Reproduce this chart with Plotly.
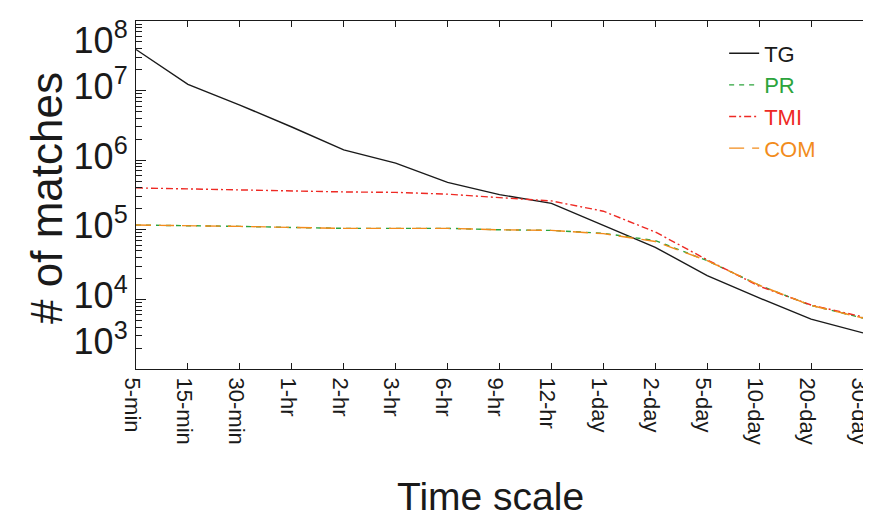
import plotly.graph_objects as go

categories = ["5-min", "15-min", "30-min", "1-hr", "2-hr", "3-hr", "6-hr", "9-hr",
              "12-hr", "1-day", "2-day", "5-day", "10-day", "20-day", "30-day"]

tg = [3.9e7, 1.23e7, 6.2e6, 3.0e6, 1.41e6, 9.1e5, 4.8e5, 3.2e5,
      2.4e5, 1.17e5, 5.6e4, 2.2e4, 1.05e4, 5.2e3, 3.3e3]
pr = [1.17e5, 1.15e5, 1.12e5, 1.08e5, 1.05e5, 1.05e5, 1.05e5, 1.0e5,
      9.8e4, 8.9e4, 7.0e4, 3.6e4, 1.6e4, 8.2e3, 5.4e3]
tmi = [4.0e5, 3.85e5, 3.75e5, 3.65e5, 3.5e5, 3.45e5, 3.25e5, 2.9e5,
       2.6e5, 1.85e5, 9.3e4, 3.7e4, 1.55e4, 8.3e3, 5.6e3]
com = [1.17e5, 1.15e5, 1.12e5, 1.08e5, 1.05e5, 1.05e5, 1.05e5, 1.0e5,
       9.8e4, 8.8e4, 6.8e4, 3.6e4, 1.6e4, 8.2e3, 5.4e3]

y_tickvals = [1e3, 1e4, 1e5, 1e6, 1e7, 1e8]
y_ticktext = ["10<sup>3</sup><br>&nbsp;", "10<sup>4</sup>", "10<sup>5</sup>",
              "10<sup>6</sup>", "10<sup>7</sup>", "&nbsp;<br>10<sup>8</sup>"]

series = [
    ("TG", tg, "#1a1a1a", "solid"),
    ("PR", pr, "#2ca43c", "5px,5px"),
    ("TMI", tmi, "#ee2a24", "7px,3px,2px,3px"),
    ("COM", com, "#f28c1c", "15px,8px"),
]

FONT = "Liberation Sans, Arial, Helvetica, sans-serif"
INK = "#1a1a1a"

fig = go.Figure()
for name, vals, color, dash in series:
    fig.add_trace(go.Scatter(
        x=categories, y=vals, mode="lines",
        name=f"<span style='color:{color}'>{name}</span>",
        line=dict(color=color, width=1.4, dash=dash),
    ))

fig.update_layout(
    width=871, height=514,
    margin=dict(l=128, r=16, t=13, b=153),
    paper_bgcolor="white", plot_bgcolor="white",
    font=dict(family=FONT, color=INK),
    showlegend=True,
    legend=dict(
        x=0.809, y=0.967, xanchor="left", yanchor="top",
        bgcolor="rgba(0,0,0,0)", font=dict(size=22, family=FONT),
        tracegroupgap=0,
    ),
    xaxis=dict(
        type="category", automargin=False,
        showline=True, linecolor=INK, linewidth=1.3, mirror="ticks",
        ticks="inside", ticklen=6, tickcolor=INK,
        tickangle=90, tickfont=dict(size=22, family=FONT, color=INK),
        ticklabelshift=-4, ticklabelstandoff=3,
        ticklabeloverflow="allow",
        showgrid=False, zeroline=False,
        range=[0, len(categories) - 1],
    ),
    yaxis=dict(
        type="log", range=[3, 8], automargin=False,
        showline=True, linecolor=INK, linewidth=1.3,
        ticks="inside", ticklen=10, tickcolor=INK,
        tickmode="array", tickvals=y_tickvals, ticktext=y_ticktext,
        tickfont=dict(size=36, family=FONT, color=INK),
        ticklabelshift=-4,
        ticklabeloverflow="allow",
        minor=dict(ticks="inside", ticklen=6, tickcolor=INK, dtick="D1", showgrid=False),
        showgrid=False, zeroline=False,
    ),
    yaxis2=dict(
        type="log", range=[3, 8], overlaying="y", side="right", anchor="x",
        showticklabels=False, showline=True, linecolor="#808080", linewidth=2,
        ticks="inside", ticklen=10, tickcolor=INK, dtick=1,
        minor=dict(ticks="inside", ticklen=6, tickcolor=INK, dtick="D1", showgrid=False),
        showgrid=False, zeroline=False, automargin=False,
    ),
    annotations=[
        dict(text="# of matches", xref="paper", yref="paper", x=-0.124, y=0.491,
             xanchor="center", yanchor="middle", textangle=-90, showarrow=False,
             font=dict(size=44, family=FONT, color=INK)),
        dict(text="Time scale", xref="paper", yref="paper", x=0.487, y=-0.365,
             xanchor="center", yanchor="middle", showarrow=False,
             font=dict(size=39, family=FONT, color=INK)),
    ],
)

fig.write_html("out.html")
